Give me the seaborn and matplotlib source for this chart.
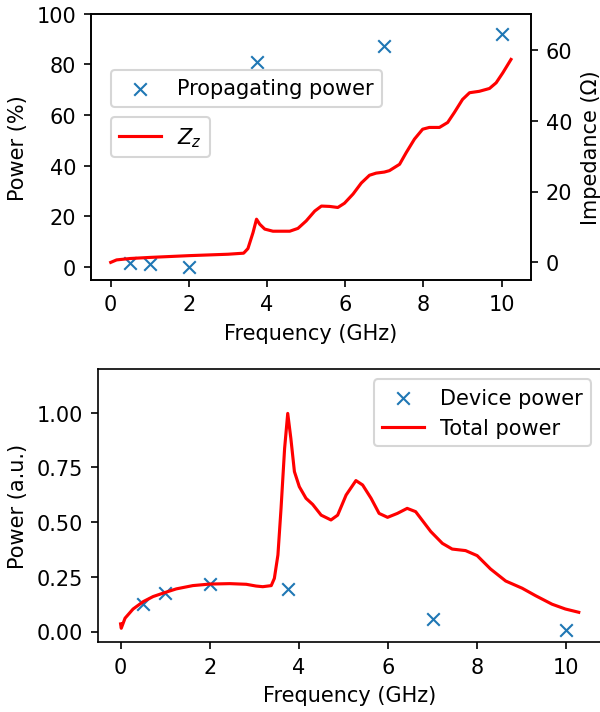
import numpy as np
import pandas as pd
import matplotlib
matplotlib.use("Agg")
import matplotlib.pyplot as plt
import seaborn as sns

# Sampled frequencies (GHz) with measured points
freq_points = [0.5, 1.0, 2.0, 3.75, 7.0, 10.0]
prop_power = [1.7, 1.4, 0.0, 80.8, 87.1, 92.1]        # %
device_power = [0.126, 0.174, 0.218, 0.193, 0.058, 0.006]  # a.u.

# Impedance curve Z_z (Ohm)
freq_z = [0.0, 0.15, 0.5, 1.0, 2.0, 3.0, 3.4, 3.51, 3.64, 3.73, 3.81, 3.94,
          4.15, 4.32, 4.58, 4.79, 5.0, 5.22, 5.39, 5.6, 5.81, 5.98, 6.2, 6.41,
          6.62, 6.79, 7.0, 7.13, 7.39, 7.56, 7.77, 7.98, 8.15, 8.41, 8.62,
          8.79, 9.0, 9.18, 9.43, 9.69, 9.86, 10.03, 10.24]
z_imp = [0.0, 0.7, 1.1, 1.4, 1.9, 2.3, 2.6, 3.9, 8.4, 12.2, 10.8, 9.4, 8.8,
         8.8, 8.8, 9.6, 11.7, 14.5, 15.9, 15.8, 15.5, 16.7, 19.3, 22.4, 24.6,
         25.2, 25.5, 25.9, 27.7, 31.0, 34.8, 37.6, 38.1, 38.1, 39.5, 42.3,
         46.0, 47.9, 48.3, 49.1, 50.7, 53.5, 57.3]

# Total power curve (a.u.)
freq_tot = [0.0, 0.015, 0.1, 0.28, 0.51, 0.73, 0.99, 1.25, 1.62, 2.0, 2.45,
            2.82, 3.04, 3.19, 3.38, 3.45, 3.53, 3.6, 3.68, 3.75, 3.82, 3.9,
            4.01, 4.16, 4.31, 4.5, 4.72, 4.87, 5.06, 5.28, 5.43, 5.62, 5.8,
            5.99, 6.21, 6.43, 6.62, 6.96, 7.22, 7.44, 7.74, 8.0, 8.3, 8.64,
            9.01, 9.31, 9.68, 9.98, 10.28]
total_power = [0.035, 0.015, 0.061, 0.103, 0.137, 0.16, 0.178, 0.195, 0.21,
               0.217, 0.219, 0.216, 0.208, 0.205, 0.21, 0.243, 0.35, 0.563,
               0.837, 0.997, 0.883, 0.731, 0.662, 0.609, 0.581, 0.532, 0.51,
               0.532, 0.624, 0.69, 0.67, 0.609, 0.54, 0.522, 0.54, 0.563,
               0.548, 0.457, 0.403, 0.377, 0.37, 0.347, 0.286, 0.231, 0.198,
               0.164, 0.125, 0.103, 0.088]

fig = plt.figure(figsize=(4, 4.753), dpi=150)

# ---- top panel: propagating power + impedance ----
ax1 = fig.add_axes([0.1512, 0.6063, 0.7338, 0.3731])
sns.scatterplot(x=freq_points, y=prop_power, marker="x", s=36, color="C0",
                linewidth=1, ax=ax1, label="Propagating power", legend=False)
ax1.set_ylim(-5, 100)
ax1.set_xlabel("Frequency (GHz)")
ax1.set_ylabel("Power (%)")

ax2 = ax1.twinx()
sns.lineplot(x=freq_z, y=z_imp, color="red", linewidth=1.5, ax=ax2,
             label="$Z_z$", legend=False)
ax2.set_ylim(-4.9, 70.2)
ax2.set_ylabel("Impedance (Ω)")

ax1.legend(loc="upper left", bbox_to_anchor=(0.045, 0.788), borderaxespad=0)
ax2.legend(loc="upper left", bbox_to_anchor=(0.045, 0.612), borderaxespad=0)

# ---- bottom panel: device vs total power ----
ax3 = fig.add_axes([0.1628, 0.0975, 0.840, 0.3836])
sns.scatterplot(x=freq_points, y=device_power, marker="x", s=36, color="C0",
                linewidth=1, ax=ax3, label="Device power", legend=False)
sns.lineplot(x=freq_tot, y=total_power, color="red", linewidth=1.5, ax=ax3,
             label="Total power", legend=False)
ax3.set_ylim(-0.05, 1.2)
ax3.set_yticks([0, 0.25, 0.5, 0.75, 1.0])
ax3.set_xlabel("Frequency (GHz)")
ax3.set_ylabel("Power (a.u.)")
ax3.legend(loc="upper right")

fig.savefig("out.png", dpi=150)
